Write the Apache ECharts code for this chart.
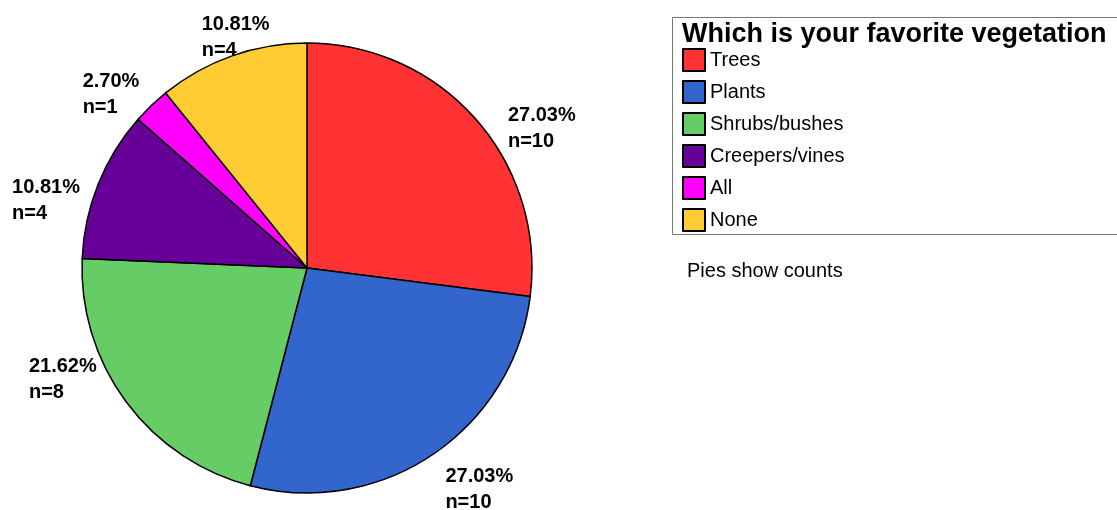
<!DOCTYPE html>
<html>
<head>
<meta charset="utf-8">
<script src="https://cdn.jsdelivr.net/npm/echarts@6/dist/echarts.min.js"></script>
<style>
  html, body { margin: 0; padding: 0; background: #fff; }
  #chart { width: 1117px; height: 510px; }
</style>
</head>
<body>
<div id="chart"></div>
<script>
// Favorite vegetation survey: counts per answer
const categories = ['Trees', 'Plants', 'Shrubs/bushes', 'Creepers/vines', 'All', 'None'];
const counts = [10, 10, 8, 4, 1, 4];
const sliceColors = ['#FF3333', '#3366CC', '#66CC66', '#660099', '#FF00FF', '#FFCC33'];

// Pie geometry and label placement (labels are left-aligned blocks)
const CENTER = [307, 268];
const RADIUS = 225;
const LABEL_RADIUS = 265;
const LABEL_NUDGE = [[2, 36], [-10, 2], [-65, -46], [-49, 31], [-41, 18], [-17, 19]];

const total = counts.reduce((a, b) => a + b, 0);
const midAngles = [];
let acc = 0;
counts.forEach(v => {
  midAngles.push(((acc + v / 2) / total) * 2 * Math.PI);
  acc += v;
});

const FONT = "'Liberation Sans', Arial, sans-serif";

const chart = echarts.init(document.getElementById('chart'), null, { renderer: 'canvas' });

chart.setOption({
  backgroundColor: '#ffffff',
  animation: false,
  color: sliceColors,
  title: [
    {
      text: 'Which is your favorite vegetation',
      left: 682, top: 21, padding: 0,
      textStyle: { fontFamily: FONT, fontSize: 27, fontWeight: 'bold', color: '#000' }
    },
    {
      text: 'Pies show counts',
      left: 687, top: 261, padding: 0,
      textStyle: { fontFamily: FONT, fontSize: 20, fontWeight: 'normal', color: '#000' }
    }
  ],
  legend: {
    orient: 'vertical',
    left: 682, top: 48, padding: 0,
    icon: 'rect',
    itemWidth: 22, itemHeight: 22, itemGap: 8,
    selectedMode: false,
    textStyle: { fontFamily: FONT, fontSize: 20, color: '#000' },
    data: categories
  },
  graphic: [
    {
      type: 'rect',
      left: 670, top: 15,
      shape: { width: 446, height: 217 },
      style: { fill: 'none', stroke: '#777', lineWidth: 1 },
      silent: true
    }
  ],
  series: [
    {
      type: 'pie',
      center: CENTER,
      radius: RADIUS,
      startAngle: 90,
      clockwise: true,
      avoidLabelOverlap: false,
      itemStyle: { borderColor: '#000', borderWidth: 1.5 },
      emphasis: { disabled: true },
      label: {
        show: true,
        position: 'outside',
        fontFamily: FONT,
        fontSize: 20,
        fontWeight: 'bold',
        color: '#000',
        lineHeight: 26,
        formatter: p => (p.value / total * 100).toFixed(2) + '%\nn=' + p.value
      },
      labelLine: { show: false },
      labelLayout: p => {
        const i = p.dataIndex;
        const a = midAngles[i];
        return {
          x: CENTER[0] + LABEL_RADIUS * Math.sin(a) + LABEL_NUDGE[i][0],
          y: CENTER[1] - LABEL_RADIUS * Math.cos(a) + LABEL_NUDGE[i][1],
          align: 'left',
          verticalAlign: 'middle'
        };
      },
      data: categories.map((c, i) => ({ name: c, value: counts[i] }))
    }
  ]
});
</script>
</body>
</html>
